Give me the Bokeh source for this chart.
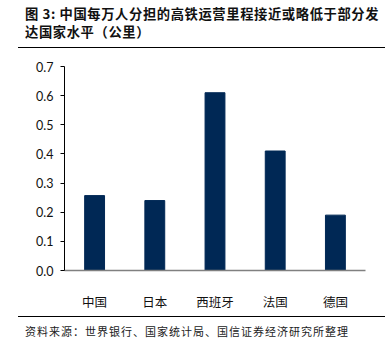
from bokeh.plotting import figure
from bokeh.models import Div, FixedTicker, NumeralTickFormatter, ColumnDataSource
from bokeh.layouts import column
from bokeh.embed import file_html
from bokeh.resources import INLINE

categories = ["中国", "日本", "西班牙", "法国", "德国"]
values = [0.257, 0.24, 0.61, 0.41, 0.19]
y_ticks = [0.0, 0.1, 0.2, 0.3, 0.4, 0.5, 0.6, 0.7]

title_html = ('<div style="width:367px;height:48px;border-bottom:1px solid #000;'
              'font-family:\'Noto Sans CJK SC\';font-weight:bold;font-size:13.3px;letter-spacing:0.6px;'
              'line-height:18px;padding:5px 0 0 7px;box-sizing:border-box;color:#111;white-space:nowrap;">'
              '图 3: 中国每万人分担的高铁运营里程接近或略低于部分发<br>达国家水平（公里）</div>')
title = Div(text=title_html, width=367, height=50, margin=(0, 4, 0, 18))

footer_html = ('<div style="width:367px;height:36px;border-top:1px solid #000;'
               'font-family:\'Noto Sans CJK SC\';font-size:11px;letter-spacing:1px;'
               'line-height:14px;padding:7px 0 0 7px;box-sizing:border-box;color:#222;white-space:nowrap;">'
               '资料来源：世界银行、国家统计局、国信证券经济研究所整理</div>')
footer = Div(text=footer_html, width=367, height=36, margin=(0, 4, 0, 18))

src = ColumnDataSource(dict(cat=categories, val=values))

p = figure(x_range=categories, y_range=(0, 0.7), width=389, height=266,
           output_backend="svg", toolbar_location=None,
           min_border_left=64, min_border_right=24, min_border_top=16, min_border_bottom=46)
p.x_range.range_padding = 0
p.vbar(x="cat", top="val", width=0.33, source=src, color="#002855")

p.grid.visible = False
p.outline_line_color = None
p.background_fill_color = "white"
p.border_fill_color = "white"

p.yaxis.ticker = FixedTicker(ticks=y_ticks)
p.yaxis.formatter = NumeralTickFormatter(format="0.0")
p.yaxis.minor_tick_line_color = None
p.yaxis.major_tick_in = 0
p.yaxis.major_tick_out = 4
p.yaxis.axis_line_color = "#000000"
p.yaxis.major_tick_line_color = "#000000"
p.yaxis.major_label_text_font = "Lato"
p.yaxis.major_label_text_font_size = "12.5px"
p.yaxis.major_label_text_color = "#111111"
p.yaxis.major_label_standoff = 7

p.xaxis.axis_line_color = "#808080"
p.xaxis.axis_line_width = 1.5
p.xaxis.major_tick_line_color = None
p.xaxis.minor_tick_line_color = None
p.xaxis.major_label_text_font = "Noto Sans CJK SC"
p.xaxis.major_label_text_font_size = "12.5px"
p.xaxis.major_label_text_color = "#111111"
p.xaxis.major_label_standoff = 15

layout = column(title, p, footer, spacing=0)
open("out.html", "w").write(file_html(layout, INLINE))
